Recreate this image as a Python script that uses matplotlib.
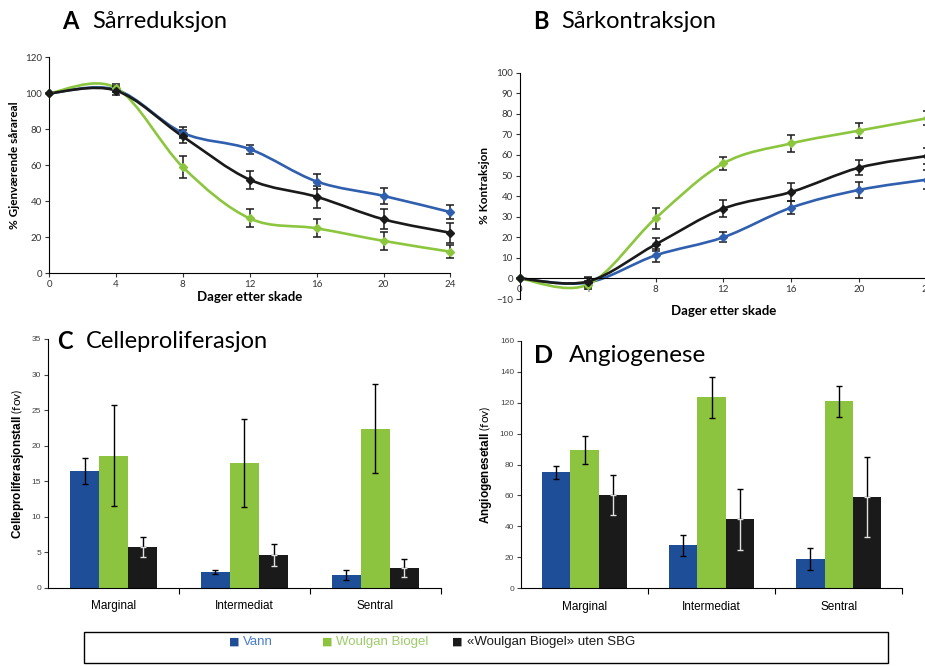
import numpy as np
import matplotlib
matplotlib.use("Agg")
import matplotlib.pyplot as plt
from matplotlib.path import Path
from matplotlib.patches import PathPatch, Rectangle

# ======================================================
# 1. DATA
# ======================================================

days = [0, 4, 8, 12, 16, 20, 24]

# A - Sårreduksjon (% gjenværende sårareal)
a_vann = [100, 102, 78, 69, 51, 43, 34]
a_vann_err = [0, 1.5, 3, 2.5, 4, 4.5, 4]
a_biogel = [100, 103, 59, 30.5, 25, 18, 12]
a_biogel_err = [0, 2, 6, 5, 5, 5, 3.5]
a_utensbg = [100, 101.5, 76, 52, 42.5, 30, 22.5]
a_utensbg_err = [0, 2.5, 3.5, 5, 6, 5.5, 5.5]

# B - Sårkontraksjon (% kontraksjon)
b_vann = [0, -2, 11.2, 20, 34.4, 43, 48]
b_vann_err = [0, 2, 3, 2.5, 3, 4, 4.5]
b_biogel = [0, -3, 29.2, 55.9, 65.6, 71.8, 77.8]
b_biogel_err = [0, 2, 5, 3, 4, 3.5, 3.5]
b_utensbg = [0, -1.5, 16.5, 33.9, 42, 53.8, 59.5]
b_utensbg_err = [0, 2, 3, 4, 4.5, 3.5, 4]

regions = ["Marginal", "Intermediat", "Sentral"]

# C - Celleproliferasjon
c_vann = [16.4, 2.2, 1.8]
c_vann_err = [1.8, 0.3, 0.7]
c_biogel = [18.6, 17.5, 22.4]
c_biogel_err = [7.1, 6.2, 6.3]
c_utensbg = [5.7, 4.6, 2.8]
c_utensbg_err = [1.4, 1.5, 1.3]

# D - Angiogenese
d_vann = [75.1, 27.8, 18.9]
d_vann_err = [4.2, 6.8, 7.0]
d_biogel = [89.3, 123.4, 120.8]
d_biogel_err = [9, 13.4, 10]
d_utensbg = [60.1, 44.6, 59.0]
d_utensbg_err = [13, 19.7, 26]

# ======================================================
# 2. STYLE
# ======================================================

BLUE_LINE = "#2f5fae"
GREEN_LINE = "#8cc63f"
BLACK = "#1a1a1a"
BLUE_BAR = "#1f4e99"
GREEN_BAR = "#8cc440"

plt.rcParams["font.family"] = ["Lato", "DejaVu Sans"]
plt.rcParams["mathtext.fontset"] = "custom"
plt.rcParams["mathtext.bf"] = "Liberation Sans:bold"
plt.rcParams["mathtext.rm"] = "Liberation Sans"

fig = plt.figure(figsize=(9.25, 6.66), dpi=100)


def smooth_path(x, y):
    # Excel-style smoothed line as cubic Bezier segments
    pts = np.column_stack([x, y]).astype(float)
    n = len(pts)
    verts = [pts[0]]
    codes = [Path.MOVETO]
    for i in range(n - 1):
        p0 = pts[i - 1] if i > 0 else pts[i]
        p1 = pts[i]
        p2 = pts[i + 1]
        p3 = pts[i + 2] if i + 2 < n else pts[i + 1]
        c1 = p1 + (p2 - p0) / 6.0
        c2 = p2 - (p3 - p1) / 6.0
        verts += [c1, c2, p2]
        codes += [Path.CURVE4] * 3
    return Path(verts, codes)


def line_panel(ax, series):
    for vals, errs, col in series:
        ax.add_patch(PathPatch(smooth_path(days, vals), fill=False,
                               edgecolor=col, lw=1.9, zorder=2, clip_on=False))
        ax.errorbar(days, vals, yerr=errs, fmt="none", ecolor=BLACK,
                    elinewidth=1.1, capsize=3, capthick=1.1, zorder=3,
                    clip_on=False)
        ax.plot(days, vals, ls="none", marker="D", ms=4, color=col,
                zorder=4, clip_on=False)
    for s in ["top", "right"]:
        ax.spines[s].set_visible(False)
    ax.set_xticks(days)
    ax.tick_params(labelsize=7, length=3, width=0.8, colors="#333333",
                   pad=2)
    ax.set_xlabel("Dager etter skade", fontsize=9.5, fontweight="bold",
                  labelpad=1)


# ======================================================
# 3. PANEL A
# ======================================================

axA = fig.add_axes([0.053, 0.5896, 0.434, 0.3244])
line_panel(axA, [(a_vann, a_vann_err, BLUE_LINE),
                 (a_biogel, a_biogel_err, GREEN_LINE),
                 (a_utensbg, a_utensbg_err, BLACK)])
axA.set_xlim(0, 24)
axA.set_ylim(0, 120)
axA.set_yticks(range(0, 121, 20))
axA.set_ylabel("% Gjenværende sårareal", fontsize=8.5, fontweight="bold",
               labelpad=4)
fig.text(0.067, 0.968, "A", fontsize=17, fontweight="bold", va="center")
fig.text(0.1, 0.968, "Sårreduksjon", fontsize=17, va="center")

# ======================================================
# 4. PANEL B
# ======================================================

axB = fig.add_axes([0.562, 0.551, 0.44, 0.340])
line_panel(axB, [(b_vann, b_vann_err, BLUE_LINE),
                 (b_biogel, b_biogel_err, GREEN_LINE),
                 (b_utensbg, b_utensbg_err, BLACK)])
axB.set_xlim(0, 24)
axB.set_ylim(-10, 100)
axB.set_yticks(range(-10, 101, 10))
axB.spines["bottom"].set_position(("data", 0))
axB.set_ylabel("% Kontraksjon", fontsize=8.5, fontweight="bold", labelpad=4)
axB.xaxis.set_label_coords(0.5, -0.025)
fig.text(0.576, 0.968, "B", fontsize=17, fontweight="bold", va="center")
fig.text(0.607, 0.968, "Sårkontraksjon", fontsize=17, va="center")

# ======================================================
# 5. BAR PANELS C and D
# ======================================================


def bar_panel(ax, series, ymax, ystep):
    x = np.arange(len(regions))
    w = 0.222
    offsets = [-w, 0, w]
    for (vals, errs, col), off in zip(series, offsets):
        ax.bar(x + off, vals, width=w, color=col, zorder=2)
        if col == BLACK:
            ax.errorbar(x + off, vals, yerr=[np.zeros(3), errs], fmt="none",
                        ecolor="black", elinewidth=1.0, capsize=2.5,
                        capthick=1.0, zorder=3)
            ax.errorbar(x + off, vals, yerr=[errs, np.zeros(3)], fmt="none",
                        ecolor="#e0e0e0", elinewidth=1.0, capsize=2.5,
                        capthick=1.0, zorder=3)
        else:
            ax.errorbar(x + off, vals, yerr=errs, fmt="none",
                        ecolor="black", elinewidth=1.0, capsize=2.5,
                        capthick=1.0, zorder=3)
    ax.set_xlim(-0.5, 2.5)
    ax.set_ylim(0, ymax)
    ax.set_yticks(np.arange(0, ymax + 1, ystep))
    ax.set_xticks(x)
    ax.set_xticklabels(regions, family="Liberation Sans", fontsize=8.5)
    ax.set_xticks([0.5, 1.5, 2.5], minor=True)
    ax.tick_params(axis="x", which="major", length=0, pad=9)
    ax.tick_params(axis="x", which="minor", length=4, width=0.8)
    ax.tick_params(axis="y", labelsize=6, length=3, width=0.8,
                   colors="#444444", pad=2)
    for lab in ax.get_yticklabels():
        lab.set_family("Liberation Sans")
    for s in ["top", "right"]:
        ax.spines[s].set_visible(False)


axC = fig.add_axes([0.0522, 0.1176, 0.4242, 0.3734])
bar_panel(axC, [(c_vann, c_vann_err, BLUE_BAR),
                (c_biogel, c_biogel_err, GREEN_BAR),
                (c_utensbg, c_utensbg_err, BLACK)], 35, 5)
axC.set_ylabel(r"$\mathbf{Celleproliferasjonstall}$ (fov)", fontsize=8.5,
               labelpad=4)
axC.text(0.023, 0.99, "C", transform=axC.transAxes, fontsize=17,
         fontweight="bold", va="center")
axC.text(0.097, 0.99, "Celleproliferasjon", transform=axC.transAxes,
         fontsize=17, va="center")

axD = fig.add_axes([0.5632, 0.1167, 0.4122, 0.3717])
bar_panel(axD, [(d_vann, d_vann_err, BLUE_BAR),
                (d_biogel, d_biogel_err, GREEN_BAR),
                (d_utensbg, d_utensbg_err, BLACK)], 160, 20)
axD.set_ylabel(r"$\mathbf{Angiogenesetall}$ (fov)", fontsize=8.5,
               labelpad=4)
axD.text(0.033, 0.94, "D", transform=axD.transAxes, fontsize=18,
         fontweight="bold", va="center")
axD.text(0.125, 0.94, "Angiogenese", transform=axD.transAxes,
         fontsize=17.5, va="center")

# ======================================================
# 6. LEGEND BOX
# ======================================================

fig.patches.append(Rectangle((0.091, 0.004), 0.869, 0.047,
                             transform=fig.transFigure, fill=False,
                             edgecolor="black", lw=1.0))
legend_items = [("Vann", BLUE_BAR, "#4a7cc8", 0.2476),
                ("Woulgan Biogel", GREEN_BAR, "#9ccc6a", 0.3476),
                ("«Woulgan Biogel» uten SBG", BLACK, BLACK, 0.489)]
for label, sq_col, txt_col, xpos in legend_items:
    fig.text(xpos, 0.036, "■", color=sq_col, fontsize=8, va="center",
             family="DejaVu Sans")
    fig.text(xpos + 0.0155, 0.036, label, color=txt_col, fontsize=9.5,
             va="center", family="Liberation Sans")

fig.savefig("out.png", dpi=100)
